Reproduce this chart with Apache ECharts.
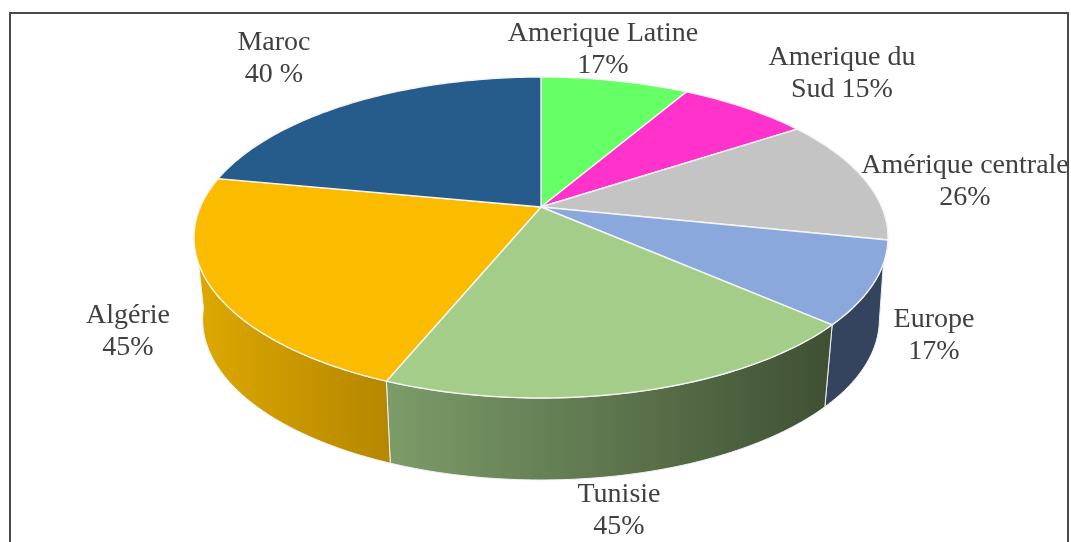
<!DOCTYPE html>
<html><head><meta charset="utf-8">
<style>html,body{margin:0;padding:0;background:#fff}#c{width:1071px;height:542px}</style>
<script src="https://cdn.jsdelivr.net/npm/echarts@6/dist/echarts.min.js"></script>
</head><body><div id="c"></div>
<script>
// Slice sizes as drawn in the picture (clockwise from the top)
const categories = ['Amerique Latine','Amerique du Sud','Amérique centrale','Europe','Tunisie','Algérie','Maroc'];
const sliceValues = [17,15,26,17,40,45,45];
// Printed labels
const labelTexts = ['Amerique Latine\n17%','Amerique du\nSud 15%','Amérique centrale\n26%','Europe\n17%','Tunisie\n45%','Algérie\n45%','Maroc\n40 %'];
const topColors = ['#66FF66','#FF33CC','#C4C4C4','#8AA8DB','#A5CD8A','#FBBC00','#265C8C'];
const wallLeft  = ['#66FF66','#FF33CC','#C4C4C4','#34445E','#7C9C69','#DDA800','#265C8C'];
const wallRight = ['#66FF66','#FF33CC','#C4C4C4','#34445E','#3F5033','#B58600','#265C8C'];

const apexX=541, apexY=207, A=340.7, B=154.7, K=0.19, DEPTH=82, SHRINK=0.975;
// silhouette tangent angles of the side wall on the top and bottom rims
const TOP_FROM=110, TOP_TO=250, BOT_FROM=97, BOT_TO=263;
const labelCentres = [[603,50],[842,74],[965,182],[934,336],[619,511],[128,332],[274,59]];
const total = sliceValues.reduce((a,b)=>a+b,0);
let run = 0;
const rows = sliceValues.map(v=>{const r=[v,run];run+=v;return r;});

function proj(deg, bottom){
  const t=deg*Math.PI/180, u=Math.sin(t), v=Math.cos(t), d=1+K*v;
  let x=A*u/d, y=-B*v/d;
  if(bottom){x*=SHRINK; y+=DEPTH;}
  return [apexX+x, apexY+y];
}
function arc(from,to,bottom){
  const n=Math.max(2,Math.ceil(to-from)), pts=[];
  for(let k=0;k<=n;k++) pts.push(proj(from+(to-from)*k/n,bottom));
  return pts;
}
function renderItem(params, api){
  const i=params.dataIndex;
  const a0=api.value(1)/total*360, a1=(api.value(1)+api.value(0))/total*360;
  const children=[];
  const t0=Math.max(a0,TOP_FROM), t1=Math.min(a1,TOP_TO);
  const b0=Math.max(a0,BOT_FROM), b1=Math.min(a1,BOT_TO);
  if(t1>t0){
    const top=arc(t0,t1,false), bot=arc(b0,b1,true);
    const xs=top.concat(bot).map(p=>p[0]);
    const fill=new echarts.graphic.LinearGradient(Math.min(...xs),0,Math.max(...xs),0,
      [{offset:0,color:wallLeft[i]},{offset:1,color:wallRight[i]}],true);
    children.push({type:'polygon',z2:1,shape:{points:top.concat(bot.reverse())},
      style:{fill:fill,stroke:'#F2F2F2',lineWidth:1}});
  }
  children.push({type:'polygon',z2:2,shape:{points:[[apexX,apexY]].concat(arc(a0,a1,false))},
    style:{fill:topColors[i],stroke:'#F4F4F4',lineWidth:1.4,lineJoin:'round'}});
  return {type:'group',children:children};
}
const chart=echarts.init(document.getElementById('c'),null,{renderer:'canvas'});
chart.setOption({
  animation:false,
  backgroundColor:'#fff',
  graphic:[
    {type:'rect',z:0,shape:{x:10,y:13,width:1058,height:560},style:{fill:'#fff',stroke:'#4A4A4A',lineWidth:2}}
  ].concat(labelTexts.map((t,i)=>({type:'text',z:10,x:labelCentres[i][0],y:labelCentres[i][1],
    style:{text:t,fill:'#404040',font:'28px "Liberation Serif"',lineHeight:32,align:'center',verticalAlign:'middle'}}))),
  series:[{type:'custom',coordinateSystem:'none',name:'Parts',z:5,renderItem:renderItem,
    data:rows.map((r,i)=>({name:categories[i],value:r}))}]
});
</script></body></html>
